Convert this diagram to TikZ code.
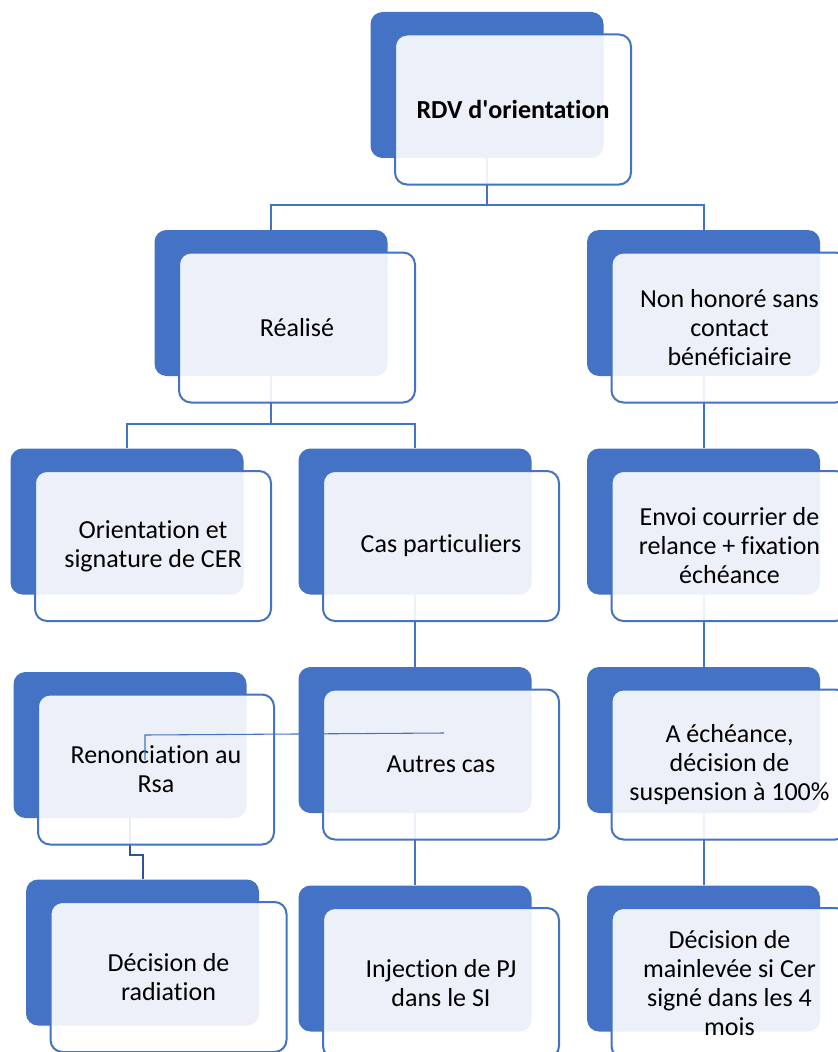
\documentclass[tikz,border=0pt]{standalone}
\usepackage{fontspec}
\setmainfont{Carlito}[Ligatures={NoCommon}]
\definecolor{smblue}{HTML}{4472C4}
\definecolor{smdark}{HTML}{2F5597}

\begin{document}
\begin{tikzpicture}[x=0.75pt,y=-0.75pt,
  back/.style={fill=smblue,rounded corners=9pt,minimum width=174.75pt,minimum height=109.5pt,inner sep=0pt},
  front/.style={draw=smblue,line width=1.5pt,fill=white,fill opacity=0.9,text opacity=1,rounded corners=9pt,
    minimum width=177pt,minimum height=112.5pt,inner sep=0pt,align=center,font=\fontsize{19.5}{21.75}\selectfont},
  link/.style={draw=smblue,line width=1.5pt},
  thinlink/.style={draw=smblue,line width=0.8pt}]
\path[use as bounding box,clip] (0,0) rectangle (838,1052);

% boxes behind
\node[back] (root) at (487,85) {};
\node[back] (realise) at (271,303) {};
\node[back] (nonhonore) at (703.5,303) {};
\node[back] (orient) at (127,521.5) {};
\node[back] (cas) at (415,521.5) {};
\node[back] (envoi) at (703.5,521.5) {};
\node[back] (renonc) at (130,745) {};
\node[back] (autres) at (415,740) {};
\node[back] (echeance) at (703.5,740) {};
\node[back] (radiation) at (142.5,952.5) {};
\node[back] (injection) at (415,958.5) {};
\node[back] (mainlevee) at (703.5,958.5) {};

\coordinate (j1) at (487,205);
\coordinate (j2) at (271,424);
\coordinate (j3) at (130,855);
\path[link]
(root.south) -- (j1) -| (realise.north)
(j1) -| (nonhonore.north)
(realise.south) -- (j2) -| (orient.north)
(j2) -| (cas.north)
(cas.south) -- (autres.north)
(autres.south) -- (injection.north)
(nonhonore.south) -- (envoi.north)
(envoi.south) -- (echeance.north)
(echeance.south) -- (mainlevee.north);
\path[link,draw=smdark]
(renonc.south) -- (j3) -| (radiation.north);

% boxes in front
\node[front] (rootF) at ([shift={(26,24.5)}]root.center) {\textbf{RDV d\textquotesingle orientation}};
\node[front] (realiseF) at ([shift={(26,24.5)}]realise.center) {Réalisé};
\node[front] (nonhonoreF) at ([shift={(26,24.5)}]nonhonore.center) {Non honoré sans\\contact\\bénéficiaire};
\node[front] (orientF) at ([shift={(26,24.5)}]orient.center) {Orientation et\\signature de CER};
\node[front] (casF) at ([shift={(26,24.5)}]cas.center) {Cas particuliers};
\node[front] (envoiF) at ([shift={(26,24.5)}]envoi.center) {Envoi courrier de\\relance + fixation\\échéance};
\node[front] (renoncF) at ([shift={(26,24.5)}]renonc.center) {Renonciation au\\Rsa};
\node[front] (autresF) at ([shift={(26,24.5)}]autres.center) {Autres cas};
\node[front] (echeanceF) at ([shift={(26,24.5)}]echeance.center) {A échéance,\\décision de\\suspension à 100\%};
\node[front] (radiationF) at ([shift={(26,24.5)}]radiation.center) {Décision de\\radiation};
\node[front] (injectionF) at ([shift={(26,24.5)}]injection.center) {Injection de PJ\\dans le SI};
\node[front] (mainleveeF) at ([shift={(26,24.5)}]mainlevee.center) {Décision de\\mainlevée si Cer\\signé dans les 4\\mois};

\coordinate (t1) at (145,760);
\coordinate (t2) at (145,735);
\coordinate (t3) at (444,733);
\path[thinlink] (t1) -- (t2) -- (t3);
\end{tikzpicture}
\end{document}
